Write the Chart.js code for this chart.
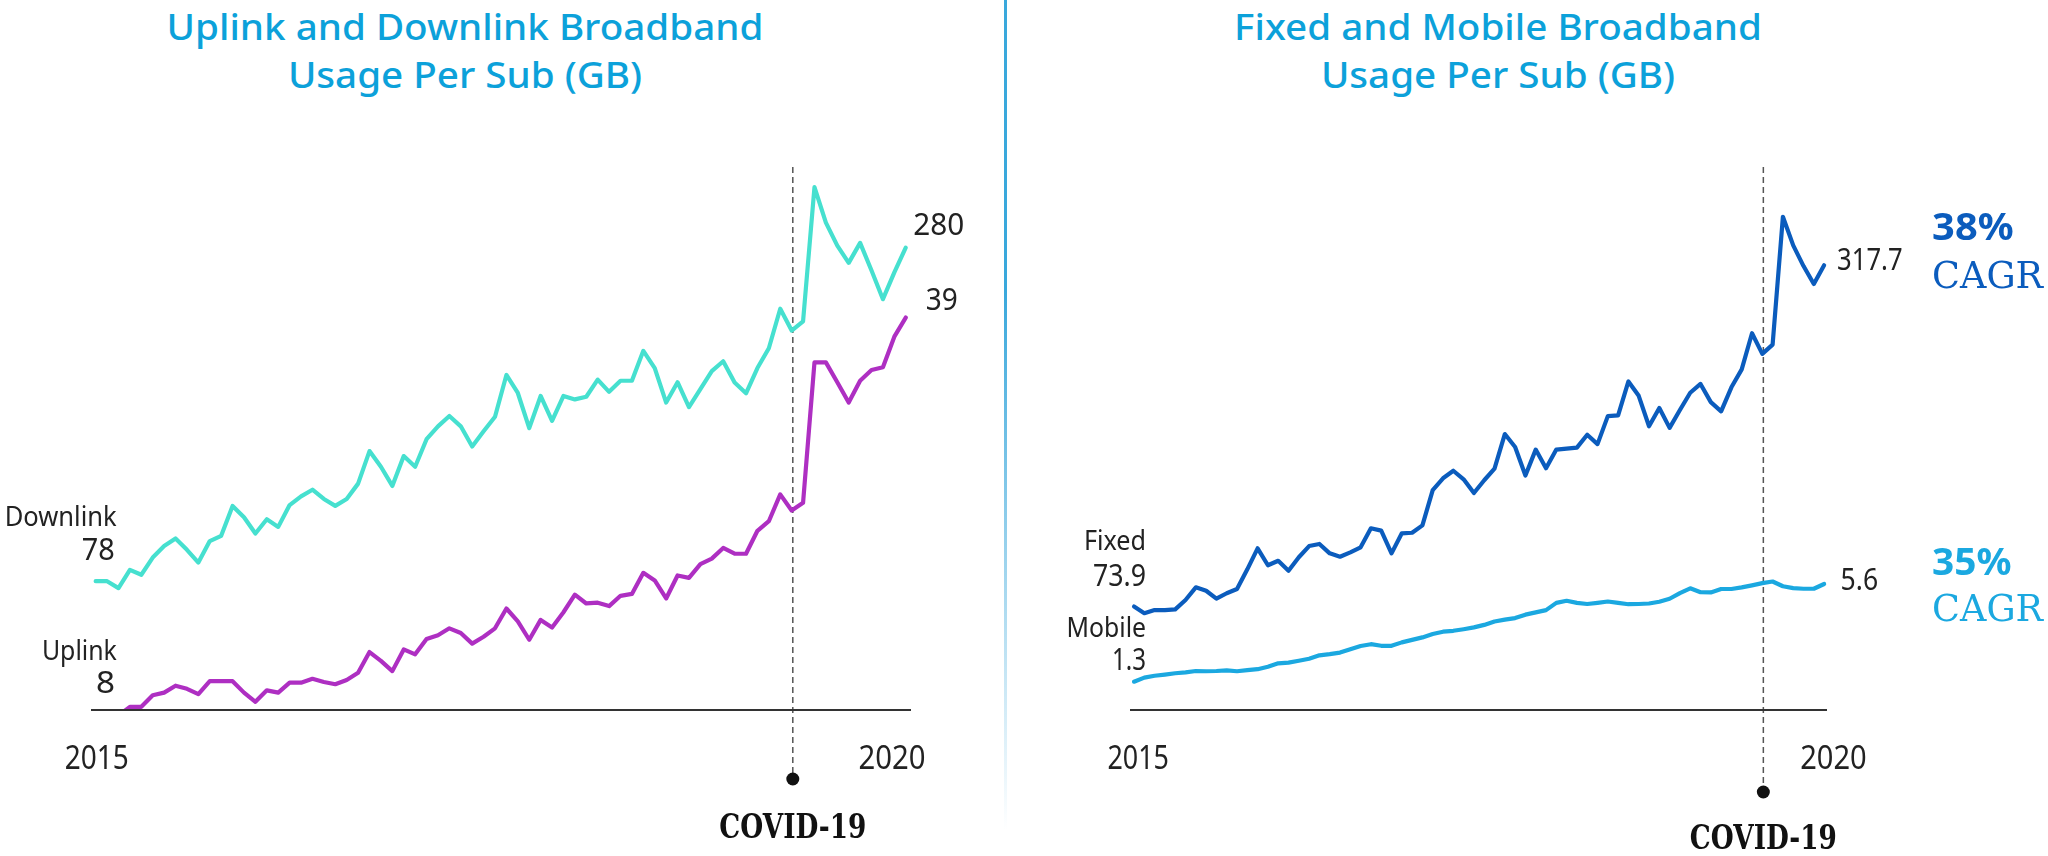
<!DOCTYPE html>
<html>
<head>
<meta charset="utf-8">
<script src="https://cdn.jsdelivr.net/npm/chart.js@4.4.1/dist/chart.umd.min.js"></script>
<style>
  html, body { margin: 0; padding: 0; background: #fff; }
  body { width: 2048px; height: 856px; position: relative; overflow: hidden; }
  canvas { position: absolute; left: 0; top: 0; }
  .titulo {
    position: absolute; top: 2px; width: 800px; text-align: center;
    font-family: "Noto Sans", sans-serif; font-weight: 500; font-size: 37px;
    line-height: 48px; color: #0ca1da; transform-origin: 50% 50%;
  }
  .divisor {
    position: absolute; left: 1004px; top: 0; width: 3px; height: 830px;
    background: linear-gradient(to bottom, #3aa8dc 0%, #3aa8dc 35%, rgba(58,168,220,0) 100%);
  }
</style>
</head>
<body>
<div class="titulo" id="tituloIzq" style="left:65px"></div>
<div class="titulo" id="tituloDer" style="left:1098px"></div>
<div class="divisor"></div>
<canvas id="graficoIzq" width="2048" height="856"></canvas>
<canvas id="graficoDer" width="2048" height="856"></canvas>
<script>
// datos mensuales (GB por suscriptor)
const downlink = [78, 78, 73.8, 84.9, 81.9, 92.3, 99.3, 103.9, 97.0, 89.3,
  102.3, 105.5, 123.6, 116.7, 106.9, 115.5, 110.9, 124.1, 129.4, 133.4,
  127.8, 123.6, 127.8, 137.1, 156.8, 147.3, 135.7, 153.8, 147.3, 164.0,
  171.8, 178.1, 171.8, 159.6, 168.8, 177.6, 202.9, 192.0, 170.7, 190.2,
  175.1, 190.2, 188.1, 189.7, 200.1, 192.7, 199.4, 199.4, 217.5, 207.1,
  186.2, 198.5, 183.4, 194.3, 205.2, 211.2, 198.3, 191.8, 207.1, 219.1,
  243.0, 229.8, 235.4, 316.7, 295.2, 281.2, 270.8, 282.9, 266.2, 248.8,
  265.0, 280];
const uplink = [null, null, 7.3, 8, 8.0, 8.92, 9.13, 9.68, 9.43, 9.01,
  10.04, 10.04, 10.04, 9.13, 8.40, 9.31, 9.13, 9.92, 9.92, 10.23,
  9.98, 9.80, 10.14, 10.71, 12.36, 11.66, 10.84, 12.57, 12.18, 13.40,
  13.70, 14.25, 13.88, 13.03, 13.58, 14.25, 15.83, 14.80, 13.34, 14.92,
  14.31, 15.53, 16.93, 16.23, 16.29, 16.02, 16.84, 16.99, 18.67, 18.06,
  16.63, 18.46, 18.27, 19.37, 19.80, 20.65, 20.19, 20.19, 22.02, 22.78,
  24.92, 23.64, 24.25, 35.43, 35.43, 33.85, 32.23, 33.97, 34.82, 35.04,
  37.48, 39];
const fixed = [73.9, 69.1, 71.4, 71.4, 71.9, 78.6, 87.6, 85.2, 79.5, 83.4,
  86.4, 100.5, 115.5, 103.4, 106.6, 99.5, 109.1, 117.1, 118.6, 111.9,
  109.5, 112.6, 116.2, 129.8, 128.1, 111.9, 126.2, 126.6, 131.9, 157.1,
  165.5, 170.9, 164.8, 155.0, 164.1, 172.4, 197.1, 187.9, 167.5, 186.0,
  172.7, 186.0, 186.7, 187.4, 196.6, 189.9, 209.9, 210.4, 234.7, 224.4,
  202.7, 215.7, 201.5, 214.3, 226.6, 232.9, 219.9, 213.3, 230.5, 243.3,
  269.1, 254.4, 261.0, 352.3, 331.9, 317.1, 304.3, 317.7];
const mobile = [1.3, 1.48, 1.56, 1.61, 1.67, 1.71, 1.77, 1.76, 1.77, 1.80,
  1.76, 1.81, 1.85, 1.96, 2.11, 2.14, 2.22, 2.31, 2.46, 2.51,
  2.58, 2.73, 2.87, 2.95, 2.88, 2.88, 3.03, 3.14, 3.25, 3.40,
  3.50, 3.54, 3.61, 3.69, 3.80, 3.95, 4.03, 4.10, 4.25, 4.35,
  4.45, 4.77, 4.86, 4.77, 4.72, 4.77, 4.83, 4.77, 4.71, 4.72,
  4.74, 4.82, 4.95, 5.20, 5.41, 5.24, 5.23, 5.38, 5.38, 5.45,
  5.54, 5.64, 5.71, 5.50, 5.42, 5.39, 5.39, 5.6];

const titulos = [
  ["Uplink and Downlink Broadband", "Usage Per Sub (GB)"],
  ["Fixed and Mobile Broadband", "Usage Per Sub (GB)"]
];
const anios = ["2015", "2020"];
const tickIzq = [0.1, 69.8];     // posicion (en meses) de las etiquetas de anio
const tickDer = [0.4, 67.9];
const mesCovid = 61.1;
const cagr = ["38%", "35%"];

const fuente = '"Noto Sans", sans-serif';
const serif = '"DejaVu Serif", serif';

// titulos en html, ajustados al ancho del original
function ponerTitulo(id, lineas, ancho) {
  const div = document.getElementById(id);
  div.innerHTML = lineas.join("<br>");
  const ctx = document.createElement("canvas").getContext("2d");
  ctx.font = '500 37px "Noto Sans"';
  const k = ancho / ctx.measureText(lineas[0]).width;
  div.style.transform = "scaleX(" + k.toFixed(3) + ")";
}
ponerTitulo("tituloIzq", titulos[0], 597);
ponerTitulo("tituloDer", titulos[1], 528);

// dibuja texto, comprimiendo en horizontal si se pasa un ancho
function texto(ctx, t, x, y, align, font, color, ancho) {
  ctx.save();
  ctx.font = font;
  ctx.fillStyle = color;
  ctx.textBaseline = "alphabetic";
  ctx.textAlign = align;
  let k = 1;
  if (ancho) k = ancho / ctx.measureText(t).width;
  ctx.translate(x, y);
  ctx.scale(k, 1);
  ctx.fillText(t, 0, 0);
  ctx.restore();
}

const pluginAnotaciones = {
  id: "anotaciones",
  beforeDatasetsDraw(chart, args, opts) {
    const ctx = chart.ctx;
    const cx = chart.scales.x.getPixelForValue(opts.covid);
    ctx.save();
    ctx.strokeStyle = "#555";
    ctx.lineWidth = 1.5;
    ctx.setLineDash([6, 4]);
    ctx.beginPath();
    ctx.moveTo(cx, opts.covidTop);
    ctx.lineTo(cx, opts.puntoY);
    ctx.stroke();
    ctx.restore();
  },
  afterDatasetsDraw(chart, args, opts) {
    const ctx = chart.ctx;
    const area = chart.chartArea;
    const x = chart.scales.x;
    ctx.save();
    // eje horizontal
    ctx.strokeStyle = "#333";
    ctx.lineWidth = 2;
    ctx.beginPath();
    ctx.moveTo(area.left, area.bottom);
    ctx.lineTo(area.right, area.bottom);
    ctx.stroke();
    // marca covid
    const cx = x.getPixelForValue(opts.covid);
    ctx.fillStyle = "#111";
    ctx.beginPath();
    ctx.arc(cx, opts.puntoY, 6.5, 0, Math.PI * 2);
    ctx.fill();
    ctx.restore();
    texto(ctx, "COVID-19", cx, opts.covidY, "center", "bold 33px " + serif, "#111", 147);
    // anios
    opts.ticks.forEach((v, i) => {
      texto(ctx, anios[i], x.getPixelForValue(v), 769, "center", "32px " + fuente, "#222", opts.anchoAnio[i]);
    });
    // etiquetas junto a las series
    opts.etiquetas.forEach(e => {
      const p = chart.getDatasetMeta(e.serie).data[e.indice];
      texto(ctx, e.texto, p.x + e.dx, p.y + e.dy, e.align, e.font, e.color || "#222", e.ancho);
    });
  }
};

function puntos(serie) {
  return serie.map((v, i) => ({ x: i, y: v }));
}

function crearGrafico(id, cfg) {
  return new Chart(document.getElementById(id), {
    type: "line",
    data: {
      datasets: [
        { data: puntos(cfg.series[0]), borderColor: cfg.colores[0], yAxisID: "y" },
        { data: puntos(cfg.series[1]), borderColor: cfg.colores[1], yAxisID: "y2", clip: 0 }
      ]
    },
    options: {
      responsive: false,
      animation: false,
      events: [],
      layout: { padding: cfg.padding },
      elements: {
        point: { radius: 0 },
        line: { borderWidth: 4.2, tension: 0, borderJoinStyle: "round", borderCapStyle: "round" }
      },
      scales: {
        x: { type: "linear", display: false, min: cfg.xRango[0], max: cfg.xRango[1] },
        y: { display: false, min: cfg.yRango[0], max: cfg.yRango[1] },
        y2: { display: false, min: cfg.y2Rango[0], max: cfg.y2Rango[1] }
      },
      plugins: {
        legend: { display: false },
        tooltip: { enabled: false },
        anotaciones: cfg.anotaciones
      }
    },
    plugins: [pluginAnotaciones]
  });
}

const chico = "28px " + fuente;
const medio = "30px " + fuente;

crearGrafico("graficoIzq", {
  series: [downlink, uplink],
  colores: ["#46e0cf", "#ae2fc2"],
  padding: { left: 91, right: 1137, top: 160, bottom: 146 },
  xRango: [-0.41, 71.46],
  yRango: [0, 333.1],
  y2Rango: [7.745, 51.55],
  anotaciones: {
    covid: mesCovid, covidTop: 167, puntoY: 779, covidY: 838,
    ticks: tickIzq, anchoAnio: [64, 67],
    etiquetas: [
      { texto: "Downlink", serie: 0, indice: 0, dx: 21, dy: -55, align: "right", font: chico, ancho: 112 },
      { texto: String(downlink[0]), serie: 0, indice: 0, dx: 19, dy: -21, align: "right", font: medio, ancho: 33 },
      { texto: "Uplink", serie: 1, indice: 3, dx: -13, dy: -47, align: "right", font: chico, ancho: 75 },
      { texto: String(uplink[3]), serie: 1, indice: 3, dx: -15, dy: -14, align: "right", font: medio, ancho: 19 },
      { texto: String(downlink[71]), serie: 0, indice: 71, dx: 7.5, dy: -12.5, align: "left", font: medio, ancho: 51 },
      { texto: String(uplink[71]), serie: 1, indice: 71, dx: 20, dy: -7.6, align: "left", font: medio, ancho: 32 }
    ]
  }
});

crearGrafico("graficoDer", {
  series: [fixed, mobile],
  colores: ["#0b5cbd", "#1ba8e0"],
  padding: { left: 1130, right: 221, top: 160, bottom: 146 },
  xRango: [-0.39, 67.28],
  yRango: [0, 392.86],
  y2Rango: [0.054, 24.26],
  anotaciones: {
    covid: mesCovid, covidTop: 167, puntoY: 792, covidY: 849,
    ticks: tickDer, anchoAnio: [61.5, 66.5],
    etiquetas: [
      { texto: "Fixed", serie: 0, indice: 0, dx: 12, dy: -56.7, align: "right", font: chico, ancho: 62 },
      { texto: String(fixed[0]), serie: 0, indice: 0, dx: 12, dy: -20.7, align: "right", font: medio, ancho: 53 },
      { texto: "Mobile", serie: 1, indice: 0, dx: 12, dy: -44.7, align: "right", font: chico, ancho: 79.5 },
      { texto: String(mobile[0]), serie: 1, indice: 0, dx: 12, dy: -11.7, align: "right", font: medio, ancho: 34 },
      { texto: String(fixed[67]), serie: 0, indice: 67, dx: 13, dy: 5, align: "left", font: medio, ancho: 65.5 },
      { texto: String(mobile[67]), serie: 1, indice: 67, dx: 16.5, dy: 6, align: "left", font: medio, ancho: 37.5 },
      { texto: cagr[0], serie: 0, indice: 67, dx: 108, dy: -25.4, align: "left", font: "bold 38px " + fuente, color: "#0b5cbd", ancho: 81.5 },
      { texto: "CAGR", serie: 0, indice: 67, dx: 108, dy: 23, align: "left", font: "38px " + serif, color: "#0b5cbd", ancho: 111 },
      { texto: cagr[1], serie: 1, indice: 67, dx: 108, dy: -9, align: "left", font: "bold 38px " + fuente, color: "#1ba8e0", ancho: 79.5 },
      { texto: "CAGR", serie: 1, indice: 67, dx: 108, dy: 37.5, align: "left", font: "38px " + serif, color: "#1ba8e0", ancho: 111 }
    ]
  }
});
</script>
</body>
</html>
